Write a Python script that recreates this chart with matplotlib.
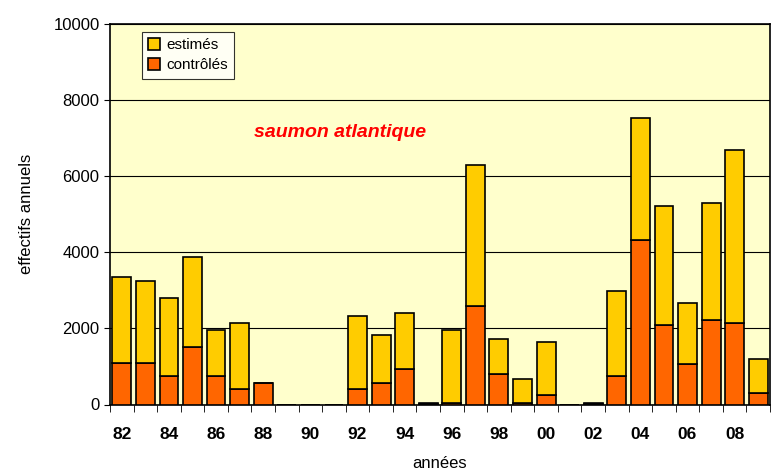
import numpy as np
import matplotlib.pyplot as plt
from matplotlib.ticker import FixedLocator

plt.rcParams['font.family'] = ['Liberation Sans', 'DejaVu Sans']

annees = list(range(1982, 2010))
totaux = [3340, 3250, 2800, 3880, 1955, 2130, 570, 0, 0, 0,
          2320, 1825, 2395, 30, 1955, 6290, 1730, 660, 1640, 0,
          30, 2980, 7530, 5210, 2670, 5300, 6680, 1195]
controles = [1100, 1100, 750, 1515, 750, 400, 570, 0, 0, 0,
             400, 570, 930, 20, 30, 2585, 800, 30, 250, 0,
             20, 750, 4320, 2090, 1065, 2225, 2130, 295]
estimes = [t - c for t, c in zip(totaux, controles)]
etiquettes = [f"{a % 100:02d}" if a % 2 == 0 else "" for a in annees]

fig = plt.figure(figsize=(7.76, 4.72), dpi=100)
ax = fig.add_axes([110/776, 1 - 404.5/472, 660/776, 381/472])
ax.set_facecolor('#FFFFCC')

x = np.arange(len(annees))
ax.bar(x, controles, 0.8, color='#FF6600', edgecolor='black', linewidth=1.2,
       label='contrôlés', zorder=3)
ax.bar(x, estimes, 0.8, bottom=controles, color='#FFCC00', edgecolor='black',
       linewidth=1.2, label='estimés', zorder=3)

ax.set_xlim(-0.5, len(annees) - 0.5)
ax.set_ylim(0, 10000)
ax.set_yticks(np.arange(0, 10001, 2000))
ax.yaxis.grid(True, color='black', linewidth=0.8, zorder=0)
ax.tick_params(axis='y', labelsize=12, direction='out', length=4)

ax.set_xticks(x)
ax.set_xticklabels(etiquettes, fontsize=12.5, fontweight='bold')
ax.tick_params(axis='x', which='major', length=0, pad=16)
ax.xaxis.set_minor_locator(FixedLocator(np.arange(-0.5, len(annees), 1)))
ax.tick_params(axis='x', which='minor', length=5, direction='out')

for s in ax.spines.values():
    s.set_linewidth(1.2)

ax.set_ylabel('effectifs annuels', fontsize=12, labelpad=14)
ax.set_xlabel('années', fontsize=12, labelpad=10)

ax.text(0.348, 0.713, 'saumon atlantique', transform=ax.transAxes, color='red',
        fontsize=14, fontweight='bold', fontstyle='italic', ha='center', va='center')

h, l = ax.get_legend_handles_labels()
leg = ax.legend(h[::-1], l[::-1], loc='upper left', bbox_to_anchor=(0.048, 0.978),
                borderaxespad=0, fontsize=11, frameon=True, fancybox=False,
                edgecolor='black', handlelength=0.8, handleheight=0.8,
                handletextpad=0.4, borderpad=0.4, labelspacing=0.4)
leg.get_frame().set_linewidth(0.8)

fig.savefig('out.png', dpi=100)
